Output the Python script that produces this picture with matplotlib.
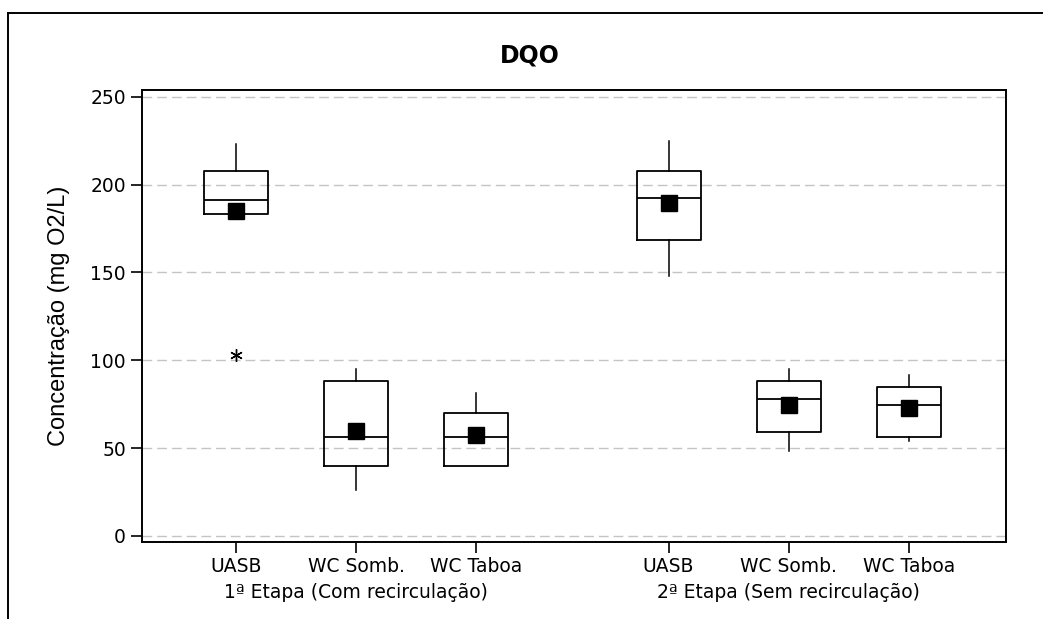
import numpy as np
import matplotlib
matplotlib.use('Agg')
import matplotlib.pyplot as plt
from matplotlib.lines import Line2D

# values (mg O2/L)
labels = ['UASB', 'WC Somb.', 'WC Taboa', 'UASB', 'WC Somb.', 'WC Taboa']
groups = ['1ª Etapa (Com recirculação)', '2ª Etapa (Sem recirculação)']
whishi = [223.0, 95.3, 81.6, 225.0, 95.3, 91.7]
q3 = [207.6, 88.3, 69.9, 207.6, 88.3, 84.5]
med = [191.3, 56.3, 56.3, 192.2, 78.2, 74.6]
q1 = [183.1, 40.0, 40.0, 168.6, 59.1, 56.3]
whislo = [183.1, 26.1, 40.0, 147.7, 48.3, 53.8]
means = [184.8, 59.8, 57.2, 189.4, 74.6, 72.7]
outliers = [[103.2], [], [], [], [], []]

pos = [1, 2, 3, 4.6, 5.6, 6.6]

stats = []
for i in range(len(labels)):
    stats.append(dict(med=med[i], q1=q1[i], q3=q3[i], whislo=whislo[i],
                      whishi=whishi[i], mean=means[i], fliers=outliers[i]))

fig = plt.figure(figsize=(10.43, 6.19), dpi=100)
ax = fig.add_axes([142/1043, 1-542.3/619, (1006-142)/1043, (542.3-90)/619])

ax.bxp(stats, positions=pos, widths=0.533, showmeans=True, showcaps=False,
       boxprops=dict(color='black', lw=1.3),
       medianprops=dict(color='black', lw=1.3),
       whiskerprops=dict(color='black', lw=1.1),
       meanprops=dict(marker='s', markerfacecolor='black', markeredgecolor='black',
                      markersize=11),
       flierprops=dict(marker=(6, 2, 0), markeredgecolor='black', markersize=9,
                       markeredgewidth=1.0))

ax.set_xlim(0.217, 7.408)
ax.set_ylim(-3.6, 253.8)
ax.set_yticks([0, 50, 100, 150, 200, 250])
ax.set_xticks(pos)
ax.set_xticklabels(labels, fontsize=13.5)
ax.tick_params(axis='y', labelsize=13.5, length=8, width=1.2)
ax.tick_params(axis='x', length=8, width=1.2, pad=2.5)
ax.yaxis.grid(True, ls=(0, (7, 3.6)), color='#c4c4c4', lw=1.0)
ax.set_axisbelow(True)
for s in ax.spines.values():
    s.set_linewidth(1.4)

ax.yaxis.set_label_coords(-0.083, 0.5)
ax.set_ylabel('Concentração (mg O2/L)', fontsize=17, family='Liberation Sans')
fig.text(530/1043, 1-55/619, 'DQO', fontsize=17, fontweight='bold', ha='center', va='center')

# group labels under the middle box of each stage
for g, xc in zip(groups, [pos[1], pos[4]]):
    ax.text(xc, -0.09, g, transform=ax.get_xaxis_transform(), ha='center', va='top',
            fontsize=13.5)

# outer frame (left and top edges visible in the reference)
fig.add_artist(Line2D([8/1043, 8/1043], [0, 1-13/619], color='black', lw=1.4))
fig.add_artist(Line2D([8/1043, 1], [1-13/619, 1-13/619], color='black', lw=1.4))

fig.savefig('out.png', dpi=100)
